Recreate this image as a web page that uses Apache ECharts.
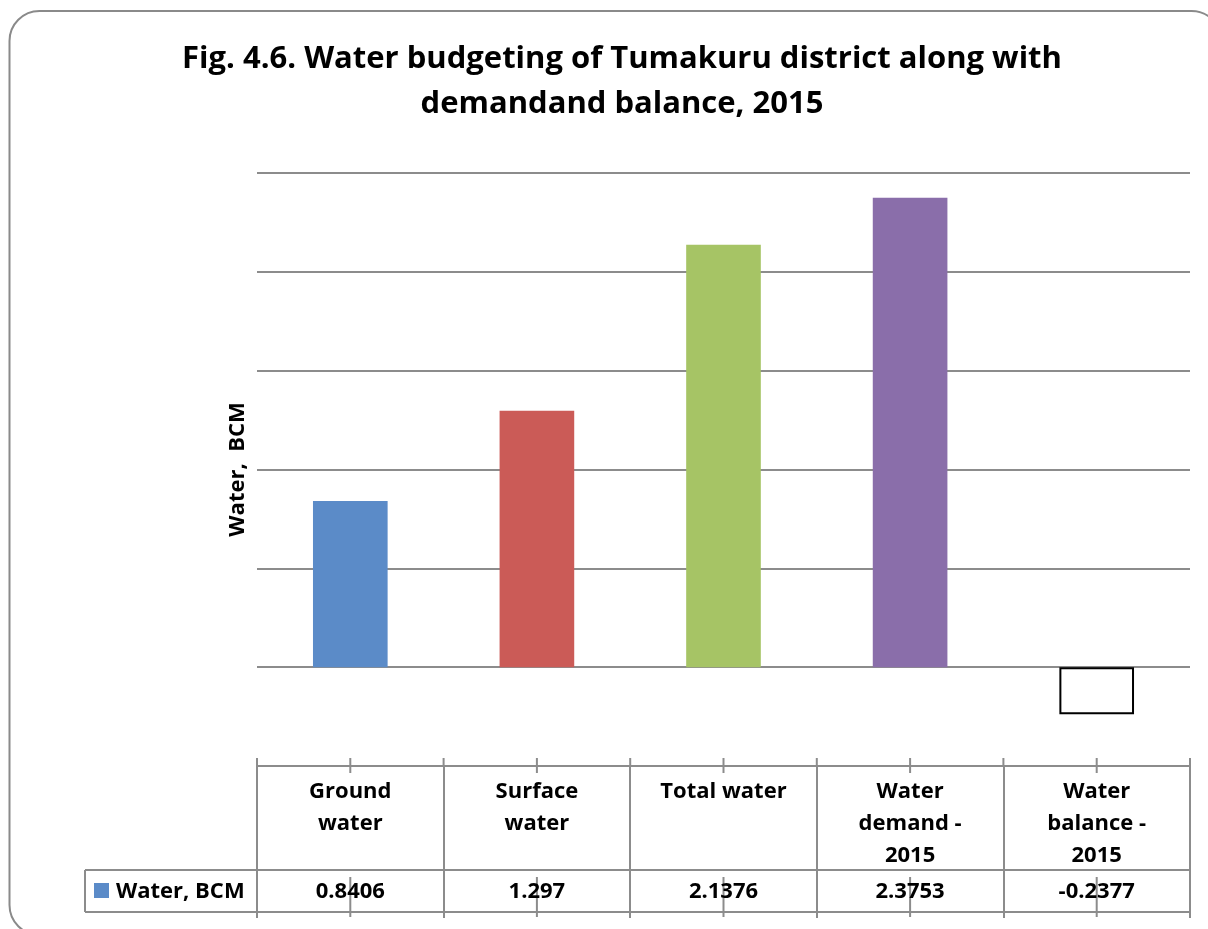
<!DOCTYPE html>
<html>
<head>
<meta charset="utf-8">
<script src="https://cdn.jsdelivr.net/npm/echarts@6/dist/echarts.min.js"></script>
<style>
  html, body { margin: 0; padding: 0; background: #fff; }
  #chart { width: 1208px; height: 929px; }
</style>
</head>
<body>
<div id="chart"></div>
<script>
// Water budget of Tumakuru district, 2015 (billion cubic metres)
const categories = ['Ground\nwater', 'Surface\nwater', 'Total water', 'Water\ndemand -\n2015', 'Water\nbalance -\n2015'];
const waterBCM = [0.8406, 1.297, 2.1376, 2.3753, -0.2377];
const valueLabels = ['0.8406', '1.297', '2.1376', '2.3753', '-0.2377'];
const barColors = ['#5B8BC8', '#CB5B57', '#A6C465', '#8A6EAA', '#FFFFFF'];
const seriesName = 'Water, BCM';
const titleText = 'Fig. 4.6. Water budgeting of Tumakuru district along with\ndemandand balance, 2015';

const FONT = '"Open Sans", Lato, sans-serif';
const GRID_COLOR = '#8C8C8C';

const chart = echarts.init(document.getElementById('chart'), null, { renderer: 'canvas' });

const barData = waterBCM.map((v, i) => ({
  value: v,
  itemStyle: v < 0
    ? { color: barColors[i], borderColor: '#000', borderWidth: 2 }
    : { color: barColors[i] }
}));

chart.setOption({
  animation: false,
  backgroundColor: '#fff',
  grid: { left: 257, right: 18, top: 173, bottom: 163 },
  xAxis: {
    type: 'category',
    data: categories,
    position: 'bottom',
    axisLine: { onZero: false, lineStyle: { color: GRID_COLOR, width: 2 } },
    axisTick: { show: true, alignWithLabel: false, length: 152, lineStyle: { color: GRID_COLOR, width: 2 } },
    axisLabel: {
      interval: 0, margin: 10, color: '#000',
      fontFamily: FONT, fontWeight: 'bold', fontSize: 22, lineHeight: 32
    },
    splitLine: { show: false }
  },
  yAxis: {
    type: 'value',
    min: -0.5, max: 2.5, interval: 0.5,
    name: 'Water,  BCM',
    nameLocation: 'middle',
    nameRotate: 90,
    nameGap: 8,
    nameTextStyle: { fontFamily: FONT, fontWeight: 'bold', fontSize: 22, color: '#000' },
    axisLine: { show: false },
    axisTick: { show: false },
    axisLabel: { show: false },
    splitLine: { show: true, lineStyle: { color: GRID_COLOR, width: 2 } }
  },
  series: [{
    name: seriesName,
    type: 'bar',
    data: barData,
    barWidth: '40%'
  }]
});

// Data table row, legend key, outer frame and title, placed from the axis scale
const yTop = 766, yMid = 870, yBot = 912, stubTop = 758, tableEnd = 917;
const firstX = chart.convertToPixel({ xAxisIndex: 0 }, 0);
const lastX = chart.convertToPixel({ xAxisIndex: 0 }, categories.length - 1);
const step = (lastX - firstX) / (categories.length - 1);
const leftEdge = firstX - step / 2;
const rightEdge = lastX + step / 2;
const lineStyle = { stroke: GRID_COLOR, lineWidth: 2 };

const graphics = [];
// outer rounded frame
graphics.push({
  type: 'rect', silent: true,
  shape: { x: 9.5, y: 11, width: 1212, height: 924, r: 30 },
  style: { fill: null, stroke: '#8A8A8A', lineWidth: 2 }
});
// title
graphics.push({
  type: 'text', silent: true,
  style: {
    text: titleText, x: 622, y: 37, textAlign: 'center', textVerticalAlign: 'top',
    font: 'bold 31px ' + FONT, lineHeight: 45, fill: '#000'
  }
});
// table horizontal rules
graphics.push({ type: 'line', silent: true, shape: { x1: 85, y1: yMid, x2: rightEdge, y2: yMid }, style: lineStyle });
graphics.push({ type: 'line', silent: true, shape: { x1: 85, y1: yBot, x2: rightEdge, y2: yBot }, style: lineStyle });
graphics.push({ type: 'line', silent: true, shape: { x1: 85, y1: yMid, x2: 85, y2: yBot }, style: lineStyle });
// short stubs above the boundaries and centre marks
for (let i = 0; i <= categories.length; i++) {
  const bx = leftEdge + i * step;
  graphics.push({ type: 'line', silent: true, shape: { x1: bx, y1: stubTop, x2: bx, y2: yTop }, style: lineStyle });
}
valueLabels.forEach((txt, i) => {
  const cx = chart.convertToPixel({ xAxisIndex: 0 }, i);
  graphics.push({ type: 'line', silent: true, shape: { x1: cx, y1: stubTop, x2: cx, y2: yTop + 7 }, style: lineStyle });
  graphics.push({ type: 'line', silent: true, shape: { x1: cx, y1: yMid + 7, x2: cx, y2: tableEnd }, style: lineStyle });
  graphics.push({
    type: 'text', silent: true, z: 10,
    style: {
      text: txt, x: cx, y: (yMid + yBot) / 2 + 1, textAlign: 'center', textVerticalAlign: 'middle',
      font: 'bold 22px ' + FONT, fill: '#000'
    }
  });
});
// legend key in the table
graphics.push({ type: 'rect', silent: true, shape: { x: 94, y: 883, width: 15, height: 15 }, style: { fill: barColors[0] } });
graphics.push({
  type: 'text', silent: true,
  style: { text: seriesName, x: 116, y: (yMid + yBot) / 2 + 1, textVerticalAlign: 'middle', font: 'bold 22px ' + FONT, fill: '#000' }
});

chart.setOption({ graphic: graphics });
</script>
</body>
</html>
